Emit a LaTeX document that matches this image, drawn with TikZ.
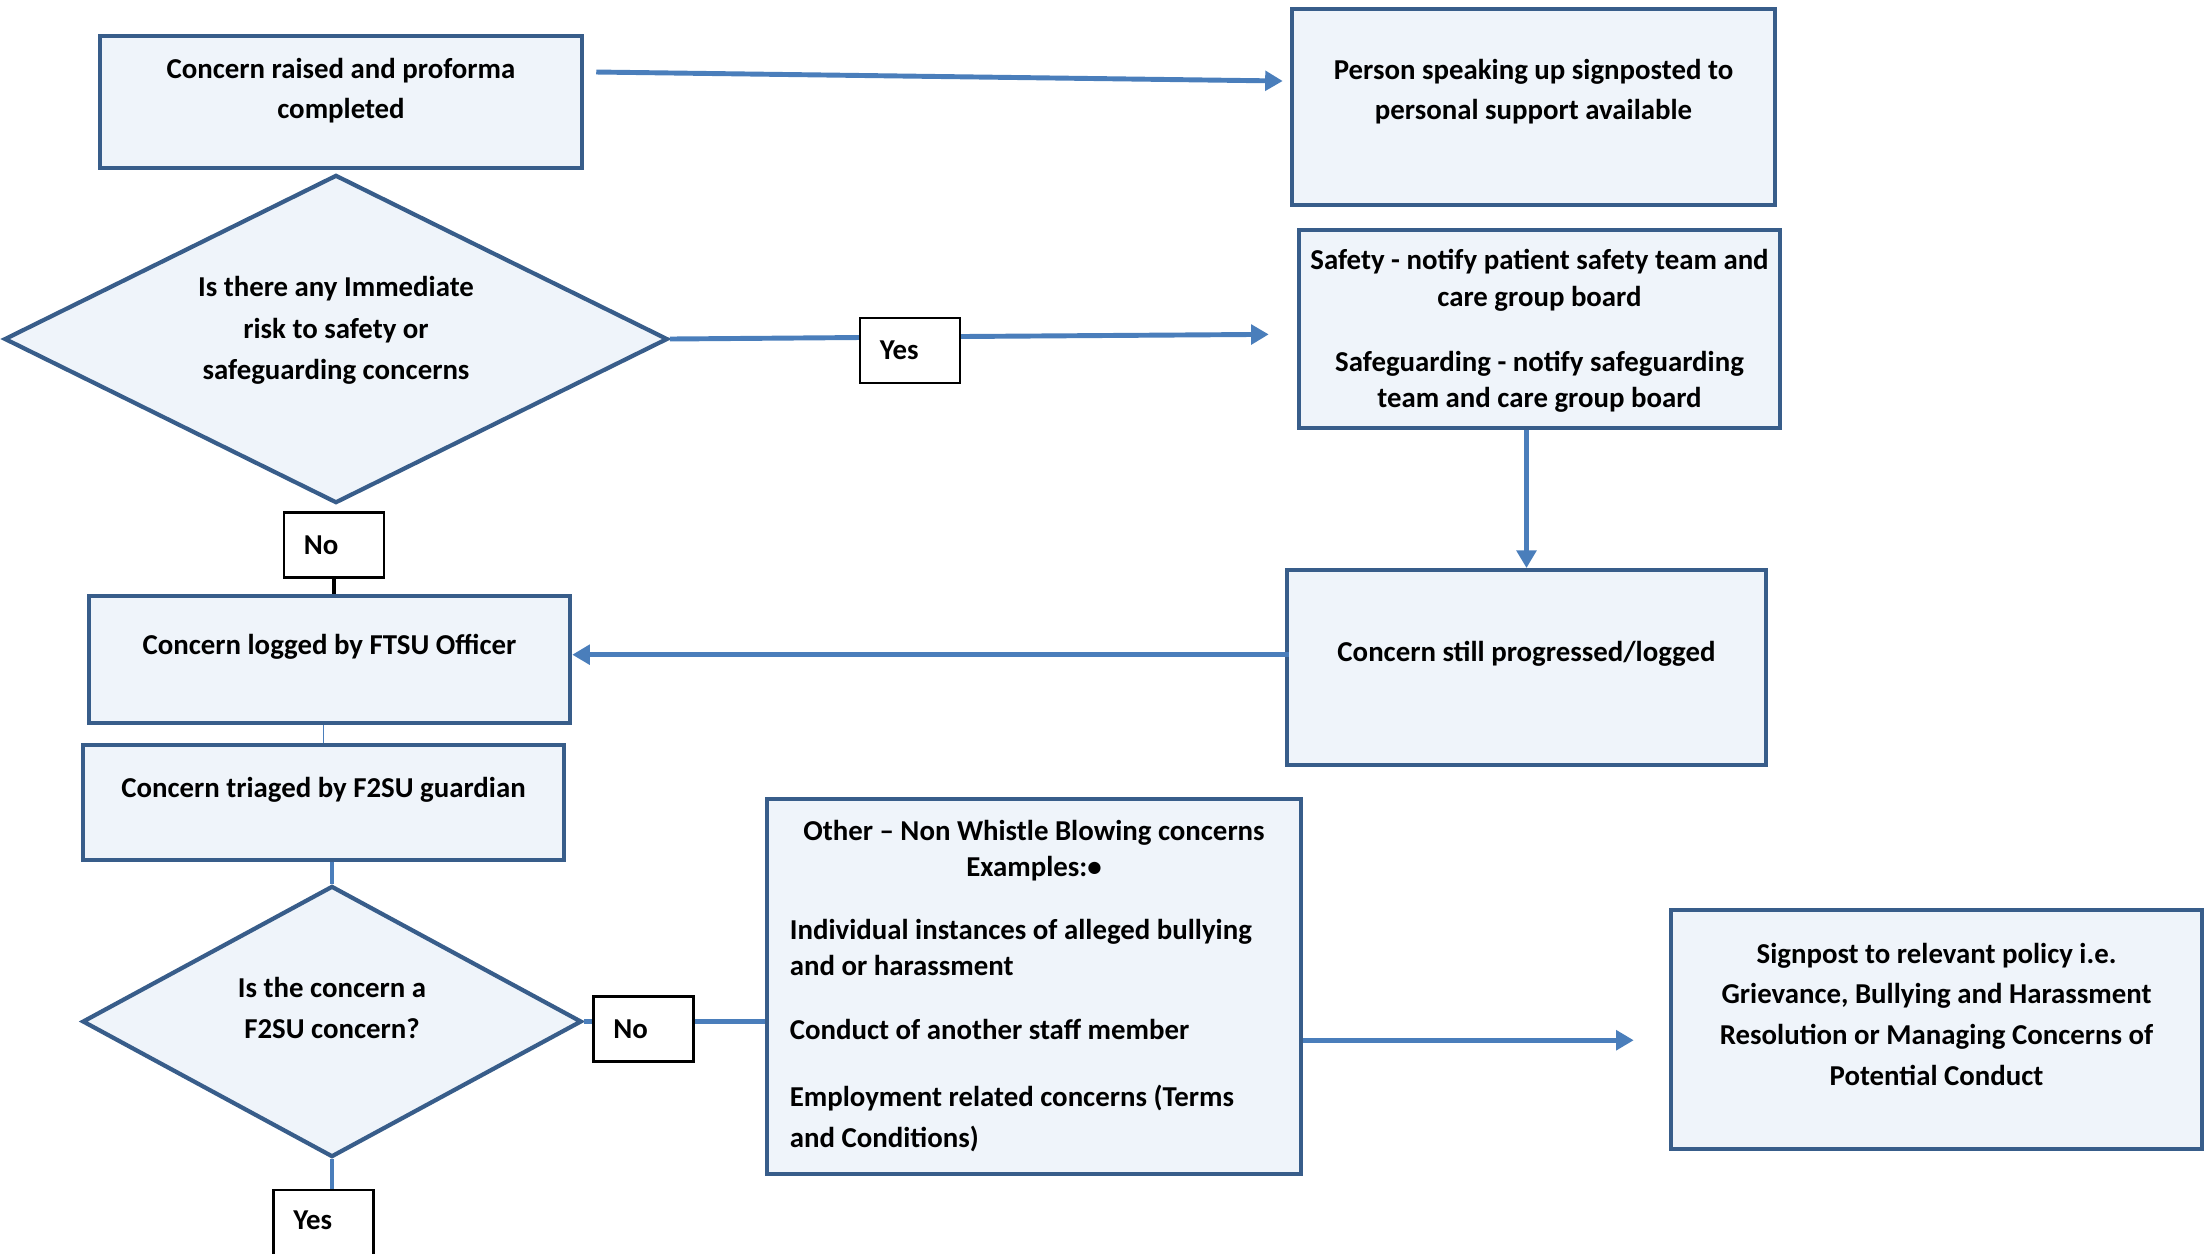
\documentclass[tikz,border=0pt]{standalone}
\usepackage{fontspec}
\setmainfont{Carlito}
\usepackage{tikz}
\usetikzlibrary{arrows,arrows.meta,shapes,calc,positioning}
\definecolor{darkBlue}{RGB}{56,93,138}
\definecolor{lineBlue}{RGB}{74,126,187}
\definecolor{paleBlue}{RGB}{239,244,250}
\tikzstyle{box}     =[draw=darkBlue, fill=paleBlue, line width=1.2pt,
                      inner sep=0pt, anchor=north, align=flush center,
                      font=\bfseries\fontsize{8.2pt}{11.6pt}\selectfont]
\tikzstyle{decision}=[diamond, aspect=2, draw=darkBlue, fill=paleBlue,
                      line width=1.2pt, inner sep=0pt, align=flush center,
                      font=\bfseries\fontsize{8.2pt}{11.8pt}\selectfont]
\tikzstyle{tag}     =[draw, fill=white, line width=0.6pt, inner sep=0pt,
                      minimum width=1cm, minimum height=0.65cm,
                      text width=0.6cm, align=flush left,
                      font=\bfseries\fontsize{8.2pt}{10pt}\selectfont]
\tikzstyle{flow}    =[->, >={Triangle[length=5pt,width=5.5pt]},
                      draw=lineBlue, line width=1.4pt]
\tikzstyle{joint}   =[draw=lineBlue, line width=1.4pt]

\begin{document}
\begin{tikzpicture}[x=0.01cm, y=-0.01cm]
    \useasboundingbox (0,0) rectangle (2205,1253);

    % left column
    \node[box, text width=4.82cm, text height=0.42cm, text depth=0.90cm]
        (raised) at (341,34) {Concern raised and proforma\\completed};
    \node[decision, minimum width=6.63cm, minimum height=3.28cm,
          text width=3.2cm, text height=0.2cm, text depth=1.04cm]
        (risk) at (336,339) {Is there any Immediate\\risk to safety or\\safeguarding concerns};
    \node[tag] (no1) at (334,545) {No};
    \node[box, text width=4.81cm, text height=0.58cm, text depth=0.69cm]
        (logged) at (329.5,594) {Concern logged by FTSU Officer};
    \node[box, text width=4.81cm, text height=0.52cm, text depth=0.63cm]
        (triaged) at (323.5,743) {Concern triaged by F2SU guardian};
    \node[decision, minimum width=4.99cm, minimum height=2.71cm,
          text width=2.6cm, text height=0.2cm, text depth=0.69cm]
        (f2su) at (332,1021.5) {Is the concern a\\F2SU concern?};
    \node[tag, anchor=north, text height=0.39cm, text depth=0.4cm]
        (yes2) at (323.5,1189) {Yes};
    \node[tag] (no2) at (643.5,1029) {No};

    % right column
    \node[tag] (yes1) at (910,350.5) {Yes};
    \node[box, text width=4.83cm, text height=0.70cm, text depth=1.26cm]
        (support) at (1533.5,7) {Person speaking up signposted to\\personal support available};
    \node[box, text width=4.81cm, text height=0.39cm, text depth=1.59cm,
          font=\bfseries\fontsize{8.2pt}{10.5pt}\selectfont]
        (safety) at (1539.5,228) {Safety - notify patient safety team and\\care group board\\[0.28cm]
        Safeguarding - notify safeguarding\\team and care group board};
    \node[box, text width=4.79cm, text height=0.91cm, text depth=1.04cm]
        (progressed) at (1526.5,568) {Concern still progressed/logged};
    \node[box, text width=4.88cm, inner xsep=0.23cm, text height=0.41cm,
          text depth=3.34cm, align=flush left,
          font=\bfseries\fontsize{8.2pt}{10.3pt}\selectfont]
        (other) at (1034,797) {\makebox[\linewidth]{Other – Non Whistle Blowing concerns}\\
        \makebox[\linewidth]{Examples:\textbullet}\\[0.27cm]
        Individual instances of alleged bullying\\
        and or harassment\\[0.27cm]
        Conduct of another staff member\\[0.31cm]
        Employment related concerns (Terms\\[0.05cm]
        and Conditions)};
    \node[box, text width=5.31cm, text height=0.53cm, text depth=1.86cm]
        (signpost) at (1936.5,908) {Signpost to relevant policy i.e.\\Grievance, Bullying and Harassment\\
        Resolution or Managing Concerns of\\Potential Conduct};

    % connectors
    \draw[flow] ($(raised.north east)+(12,38)$) -- ($(support.north west)+(-7,74)$);
    \draw[joint] (risk.east) -- ($(yes1.west)+(0,-13)$);
    \draw[flow, shorten >=0.28cm] ($(yes1.east)+(0,-14)$) -- ($(safety.west)+(0,5)$);
    \draw[flow] (safety.south -| progressed.north) -- (progressed.north);
    \coordinate (back) at ($(progressed.west)+(4,-13)$);
    \draw[flow] (back) -- (back -| logged.east);
    \draw[line width=1.4pt] (no1.south) -- (no1.south |- logged.north);
    \draw[lineBlue, line width=0.4pt] (triaged.north) -- (triaged.north |- logged.south);
    \draw[joint] (f2su.north |- triaged.south) -- (f2su.north);
    \draw[joint] (f2su.east) -- (f2su.east -| no2.west);
    \draw[joint] (no2.east |- f2su.east) -- (f2su.east -| other.west);
    \draw[joint] (f2su.south) -- (f2su.south |- yes2.north);
    \coordinate (aside) at ($(other.east)+(0,53.5)$);
    \draw[flow, shorten >=0.35cm] (aside) -- (aside -| signpost.west);
\end{tikzpicture}
\end{document}
